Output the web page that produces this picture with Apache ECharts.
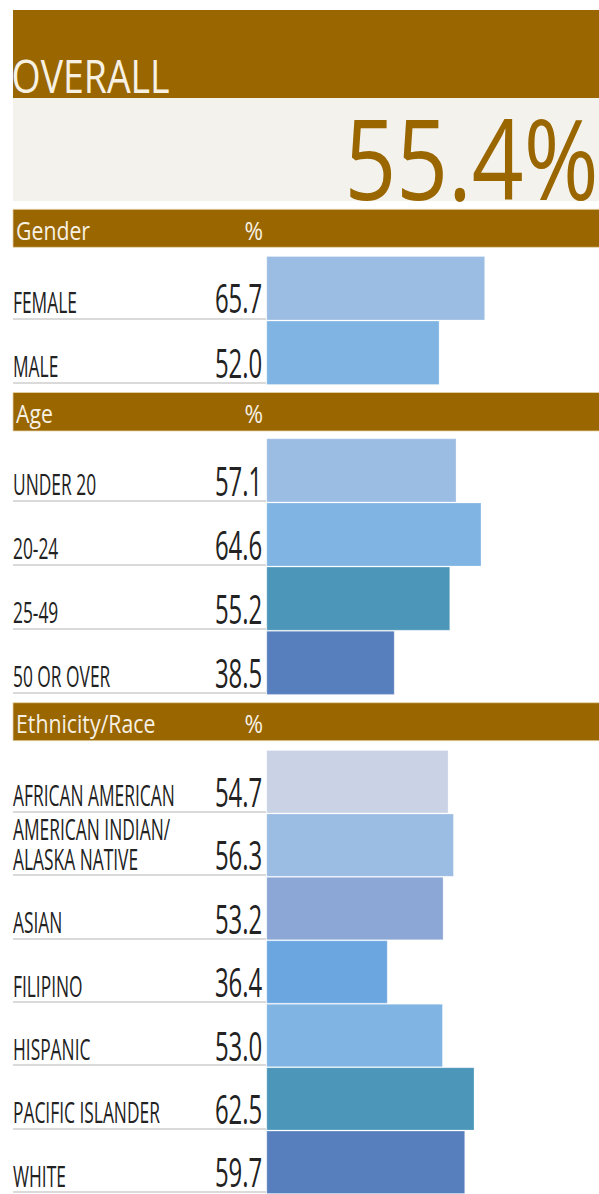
<!DOCTYPE html>
<html>
<head>
<meta charset="utf-8">
<script src="https://cdn.jsdelivr.net/npm/echarts@6/dist/echarts.min.js"></script>
<style>
html,body{margin:0;padding:0;background:#fff;overflow:hidden;width:599px;height:1194px;}
#chart{width:1000px;height:1194px;transform:scaleX(0.599);transform-origin:0 0;}
</style>
</head>
<body>
<div id="chart"></div>
<script>
// ---- data ----
const overallTitle = 'OVERALL';
const overallValue = 55.4;
const sectionTitles = ['Gender', 'Age', 'Ethnicity/Race'];
const genderCats = ['FEMALE', 'MALE'];
const genderVals = [65.7, 52.0];
const ageCats = ['UNDER 20', '20-24', '25-49', '50 OR OVER'];
const ageVals = [57.1, 64.6, 55.2, 38.5];
const ethCats = ['AFRICAN AMERICAN', 'AMERICAN INDIAN/\nALASKA NATIVE', 'ASIAN', 'FILIPINO', 'HISPANIC', 'PACIFIC ISLANDER', 'WHITE'];
const ethVals = [54.7, 56.3, 53.2, 36.4, 53.0, 62.5, 59.7];

// ---- styles ----
const genderColors = ['#9bbce3', '#7fb4e3'];
const ageColors = ['#9bbce3', '#7fb4e3', '#4b96b9', '#577ebd'];
const ethColors = ['#c9d3e5', '#9bbce3', '#8ca7d6', '#6ba6e1', '#7fb4e3', '#4b96b9', '#577ebd'];
const BROWN = '#996600';
const CREAM = '#f7f1e4';
const FONT = '"Open Sans", "Noto Sans", sans-serif';
const S = 0.599;               // horizontal compression of the whole page
const u = x => x / S;          // reference px -> unscaled px

// section layout (reference px)
const sections = [
  { cats: genderCats, vals: genderVals, colors: genderColors, head: 209.3, headH: 38, top: 256, h: 129 },
  { cats: ageCats, vals: ageVals, colors: ageColors, head: 392.5, headH: 38.5, top: 438.3, h: 256.6 },
  { cats: ethCats, vals: ethVals, colors: ethColors, head: 702.7, headH: 38, top: 750, h: 444 }
];

const grids = [], xAxes = [], yAxes = [], series = [], graphics = [];

// overall block
graphics.push({ type: 'rect', shape: { x: u(13), y: 10, width: 1000, height: 88 }, style: { fill: BROWN }, silent: true });
graphics.push({ type: 'rect', shape: { x: u(13), y: 98, width: 1000, height: 103 }, style: { fill: '#f4f2ed' }, silent: true });
graphics.push({ type: 'text', x: u(11.5), y: 76, scaleX: 1.39,
  style: { text: overallTitle, font: '45px ' + FONT, fill: CREAM, align: 'left', verticalAlign: 'middle' } });
graphics.push({ type: 'text', x: u(598.5), y: 157, scaleX: 1.35,
  style: { text: overallValue.toFixed(1) + '%', font: '112px ' + FONT, fill: BROWN, align: 'right', verticalAlign: 'middle' } });

sections.forEach((sec, k) => {
  // header band
  graphics.push({ type: 'rect', shape: { x: u(13), y: sec.head, width: 1000, height: sec.headH },
    style: { fill: BROWN, stroke: '#e9d7ac', lineWidth: 1 }, silent: true });
  const cy = sec.head + sec.headH / 2 + 2;
  graphics.push({ type: 'text', x: u(16), y: cy, scaleX: 1.42,
    style: { text: sectionTitles[k], font: '25px ' + FONT, fill: CREAM, align: 'left', verticalAlign: 'middle' } });
  graphics.push({ type: 'text', x: u(263), y: cy, scaleX: 1.5,
    style: { text: '%', font: '25px ' + FONT, fill: CREAM, align: 'right', verticalAlign: 'middle' } });

  // label grid (category names + separators)
  const gi = grids.length;
  grids.push({ left: u(13), top: sec.top - 2, width: u(266) - u(13), height: sec.h, containLabel: false });
  xAxes.push({ gridIndex: gi, type: 'value', min: 0, max: 1, show: false });
  yAxes.push({ gridIndex: gi, type: 'category', data: sec.cats, inverse: true,
    axisLine: { show: false }, axisTick: { show: false },
    splitLine: { show: true, interval: 0, showMinLine: false, showMaxLine: true, lineStyle: { color: '#dadada', width: 2 } },
    axisLabel: { inside: true, margin: 0, interval: 0, align: 'left', verticalAlign: 'middle',
      fontFamily: FONT, fontSize: 29, lineHeight: 30, color: '#222',
      formatter: v => v.indexOf('\n') >= 0 ? v : '\n' + v } });

  // bar grid
  const bi = grids.length;
  grids.push({ left: u(266.5), top: sec.top, width: u(339), height: sec.h, containLabel: false });
  xAxes.push({ gridIndex: bi, type: 'value', min: 0, max: 100, show: false });
  yAxes.push({ gridIndex: bi, type: 'category', data: sec.cats, inverse: true, show: false });
  series.push({
    type: 'bar', xAxisIndex: bi, yAxisIndex: bi, barWidth: '100%', silent: true,
    data: sec.vals.map((v, i) => ({ value: v, itemStyle: { color: sec.colors[i] } })),
    itemStyle: { borderColor: 'rgba(255,255,255,0.35)', borderWidth: 1 },
    label: { show: true, position: 'left', distance: 7, offset: [0, 10],
      fontFamily: FONT, fontSize: 40, color: '#222',
      formatter: p => p.value.toFixed(1) }
  });
});

const chart = echarts.init(document.getElementById('chart'), null, { renderer: 'svg', width: 1000, height: 1194 });
chart.setOption({
  animation: false,
  backgroundColor: '#ffffff',
  grid: grids, xAxis: xAxes, yAxis: yAxes, series: series,
  graphic: { elements: graphics }
});
</script>
</body>
</html>
